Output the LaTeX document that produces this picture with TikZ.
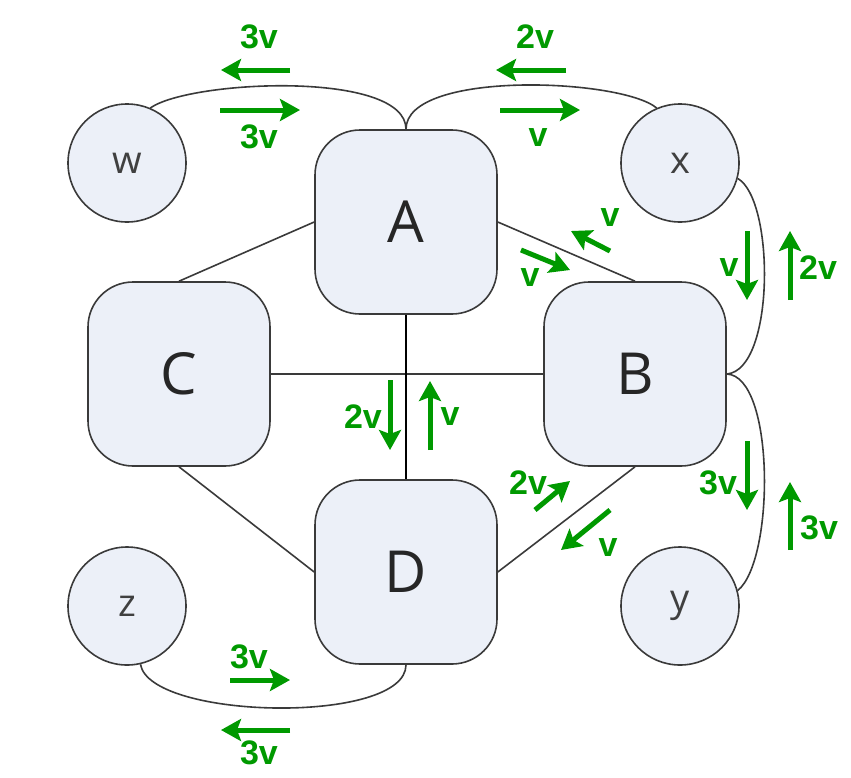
\documentclass[tikz,border=0pt]{standalone}
\usepackage{fontspec}
\setmainfont{Open Sans}
\newfontfamily\lblfont{Liberation Sans}
\usetikzlibrary{arrows.meta}
\definecolor{boxfill}{HTML}{ECF0F8}
\definecolor{edgecol}{HTML}{3A3A3A}
\definecolor{flowgreen}{RGB}{0,153,0}
\tikzset{
  bignode/.style={draw=edgecol, line width=1.6pt, fill=boxfill, rounded corners=45pt,
    minimum width=182pt, minimum height=184pt, inner sep=0pt,
    font=\fontsize{58}{60}\selectfont, text=black!85},
  smallnode/.style={circle, draw=edgecol, line width=1.6pt, fill=boxfill,
    minimum size=118pt, inner sep=0pt, font=\fontsize{38}{40}\selectfont, text=black!75},
  link/.style={draw=edgecol, line width=1.6pt},
  flow/.style={draw=flowgreen, line width=5pt, -{Stealth[length=20pt,width=22pt,inset=4pt]}},
  flowlbl/.style={text=flowgreen, font=\lblfont\bfseries\fontsize{34}{36}\selectfont, inner sep=0pt}
}
\newcommand{\flowarrow}[5]{%
  \coordinate (#1s) at (#2); \coordinate (#1e) at (#3);
  \draw[flow] (#1s) -- (#1e);
  \node[flowlbl] (#1l) at (#5) {#4};
}
\begin{document}
\begin{tikzpicture}[x=1pt,y=-1pt]
\useasboundingbox (0,0) rectangle (851,777);
\node[bignode] (A) at (406,222) {A};
\node[bignode] (C) at (179,374) {C};
\node[bignode] (B) at (635,374) {B};
\node[bignode] (D) at (406,572) {D};
\node[smallnode] (w) at (127,163) {w};
\node[smallnode] (x) at (680,163) {x};
\node[smallnode] (z) at (127,606) {z};
\node[smallnode] (y) at (680,606) {y};
% straight links
\draw[link] (A.west) -- (C.north);
\draw[link] (A.east) -- (B.north);
\draw[link] (C.south) -- (D.west);
\draw[link] (B.south) -- (D.east);
\draw[link] (C.east) -- (B.west);
\draw[draw=black, line width=1.3pt] (A.south) -- (D.north);
% curved links
\draw[link] (w.67) .. controls (190,80) and (406,70) .. (A.north);
\draw[link] (A.north) .. controls (406,70) and (620,78) .. (x.113);
\draw[link] (x.-15) .. controls (775,200) and (775,370) .. (B.east);
\draw[link] (B.east) .. controls (775,376) and (775,560) .. (y.15);
\draw[link] (z.-77) .. controls (150,720) and (406,725) .. (D.south);
% flows
\flowarrow{f1}{290,70}{221,70}{3v}{259,37}
\flowarrow{f2}{220,110}{300,110}{3v}{259,137}
\flowarrow{f3}{566,70}{496,70}{2v}{535,37}
\flowarrow{f4}{500,110}{580,110}{v}{538,138}
\flowarrow{f5}{610,251}{571,231}{v}{610,218}
\flowarrow{f6}{521,250}{570,270}{v}{530,278}
\flowarrow{f7}{747,231}{747,300}{v}{729,268}
\flowarrow{f8}{790,300}{790,231}{2v}{818,268}
\flowarrow{f9}{390,380}{390,450}{2v}{363,417}
\flowarrow{f10}{430,450}{430,381}{v}{450,417}
\flowarrow{f11}{535,510}{570,481}{2v}{528,483}
\flowarrow{f12}{610,510}{561,550}{v}{608,548}
\flowarrow{f13}{747,441}{747,510}{3v}{718,483}
\flowarrow{f14}{790,550}{790,482}{3v}{819,528}
\flowarrow{f15}{230,680}{290,680}{3v}{249,657}
\flowarrow{f16}{290,730}{221,730}{3v}{259,753}
\end{tikzpicture}
\end{document}
